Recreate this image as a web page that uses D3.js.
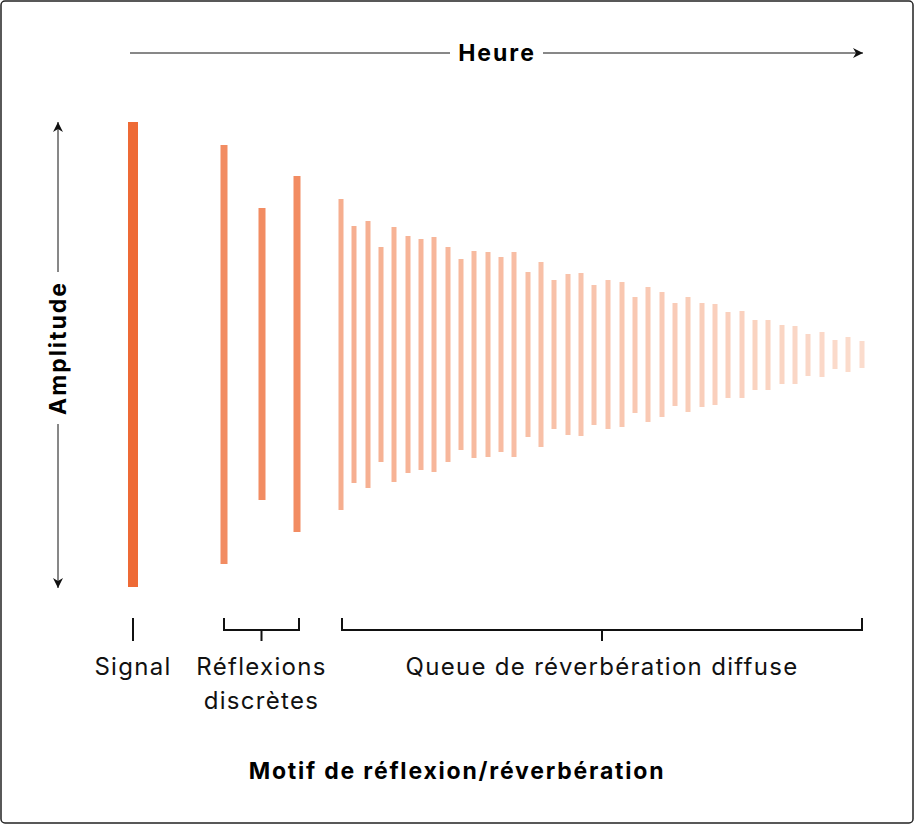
<!DOCTYPE html>
<html>
<head>
<meta charset="utf-8">
<script src="https://cdn.jsdelivr.net/npm/d3@7/dist/d3.min.js"></script>
<style>
  body { margin: 0; background: #fff; }
  svg { font-family: "Inter", "Roboto", sans-serif; }
</style>
</head>
<body>
<svg id="chart" width="915" height="825"></svg>
<script>
// ==============================
// DATA
// ==============================
const signalTime = [0];
const signalUpper = [233];
const signalLower = [-232];

const discreteTimes = [91, 129, 164];
const discreteUpper = [210, 147, 179];
const discreteLower = [-209, -145, -177];

const diffuseTimes = [208, 221, 235, 248, 261, 275, 288, 301, 315, 328, 341, 355, 368, 381, 395, 408, 421, 435, 448, 461,
  475, 489, 502, 515, 529, 542, 555, 569, 582, 595, 609, 622, 635, 649, 662, 675, 689, 702, 715, 729];
const diffuseUpper = [156, 129, 134, 108, 128, 119, 116, 118, 108, 96, 104, 103, 98, 103, 83, 93, 75, 81, 82, 70,
  75, 73, 58, 68, 63, 52, 58, 52, 51, 43, 44, 35, 35, 30, 29, 21, 23, 15, 18, 14];
const diffuseLower = [-155, -128, -133, -107, -127, -118, -115, -117, -107, -95, -103, -102, -97, -102, -82, -92, -74, -80, -81, -70,
  -74, -72, -58, -67, -62, -51, -57, -52, -50, -43, -43, -35, -35, -29, -29, -21, -22, -14, -17, -13];

const groupLabels = ["Signal", "Réflexions\ndiscrètes", "Queue de réverbération diffuse"];

// ==============================
// SCALES
// ==============================
const svg = d3.select("#chart");
const x = d3.scaleLinear().domain([0, 730]).range([133, 863]);
const y = d3.scaleLinear().domain([-240, 240]).range([595, 115]);

// Frame
svg.append("rect").attr("x", 1).attr("y", 1).attr("width", 912).attr("height", 822)
  .attr("rx", 4).attr("fill", "none").attr("stroke", "#222").attr("stroke-width", 1.5);

// Arrow marker
const defs = svg.append("defs");
defs.append("marker").attr("id", "arr").attr("viewBox", "0 0 10 10").attr("refX", 10).attr("refY", 5)
  .attr("markerWidth", 12).attr("markerHeight", 10).attr("markerUnits", "userSpaceOnUse").attr("orient", "auto-start-reverse")
  .append("path").attr("d", "M0,0 L10,5 L0,10 L3,5 Z").attr("fill", "#111");

// ==============================
// BARS
// ==============================
function drawBars(times, up, lo, width, color) {
  svg.append("g").selectAll("rect").data(times).join("rect")
    .attr("x", (d) => x(d) - width / 2)
    .attr("y", (d, i) => y(up[i]))
    .attr("width", width)
    .attr("height", (d, i) => y(lo[i]) - y(up[i]))
    .attr("fill", (d, i) => typeof color === "function" ? color(i) : color);
}
drawBars(signalTime, signalUpper, signalLower, 10, "#ee6a35");
drawBars(discreteTimes, discreteUpper, discreteLower, 7, "#f28c62");
const fade = d3.scaleLinear().domain([0, diffuseTimes.length - 1]).range(["#f6ae8f", "#fbdccd"]);
drawBars(diffuseTimes, diffuseUpper, diffuseLower, 5, fade);

// ==============================
// AXES (ARROWS)
// ==============================
svg.append("line").attr("x1", 130).attr("x2", 450).attr("y1", 53).attr("y2", 53).attr("stroke", "#111");
svg.append("line").attr("x1", 543).attr("x2", 863).attr("y1", 53).attr("y2", 53).attr("stroke", "#111").attr("marker-end", "url(#arr)");
svg.append("text").attr("x", 497).attr("y", 61).attr("text-anchor", "middle")
  .attr("font-size", 23).attr("font-weight", 700).attr("letter-spacing", 2).text("Heure");

svg.append("line").attr("x1", 58).attr("x2", 58).attr("y1", 272).attr("y2", 122).attr("stroke", "#111").attr("marker-end", "url(#arr)");
svg.append("line").attr("x1", 58).attr("x2", 58).attr("y1", 424).attr("y2", 588).attr("stroke", "#111").attr("marker-end", "url(#arr)");
svg.append("text").attr("transform", "translate(66,348) rotate(-90)").attr("text-anchor", "middle")
  .attr("font-size", 23).attr("font-weight", 700).attr("letter-spacing", 2).text("Amplitude");

// ==============================
// GROUP BRACKETS
// ==============================
const bracketSpans = [[0, 0], [91, 166], [209, 729]];
const bracket = svg.append("g").attr("stroke", "#111").attr("stroke-width", 2).attr("fill", "none");
bracketSpans.forEach(([a, b]) => {
  const xa = x(a), xb = x(b), xm = (xa + xb) / 2;
  if (a === b) {
    bracket.append("line").attr("x1", xa).attr("x2", xa).attr("y1", 618).attr("y2", 641);
  } else {
    bracket.append("path").attr("d", `M${xa},618 V630 H${xb} V618 M${xm},630 V641`);
  }
});
bracketSpans.forEach(([a, b], i) => {
  const xm = (x(a) + x(b)) / 2;
  const t = svg.append("text").attr("x", xm).attr("y", 675).attr("text-anchor", "middle")
    .attr("font-size", 24).attr("letter-spacing", 1.3).attr("fill", "#111");
  groupLabels[i].split("\n").forEach((line, k) => {
    t.append("tspan").attr("x", xm).attr("dy", k ? 34 : 0).text(line);
  });
});

svg.append("text").attr("x", 457).attr("y", 779).attr("text-anchor", "middle")
  .attr("font-size", 23).attr("font-weight", 700).attr("letter-spacing", 1.8).text("Motif de réflexion/réverbération");
</script>
</body>
</html>
